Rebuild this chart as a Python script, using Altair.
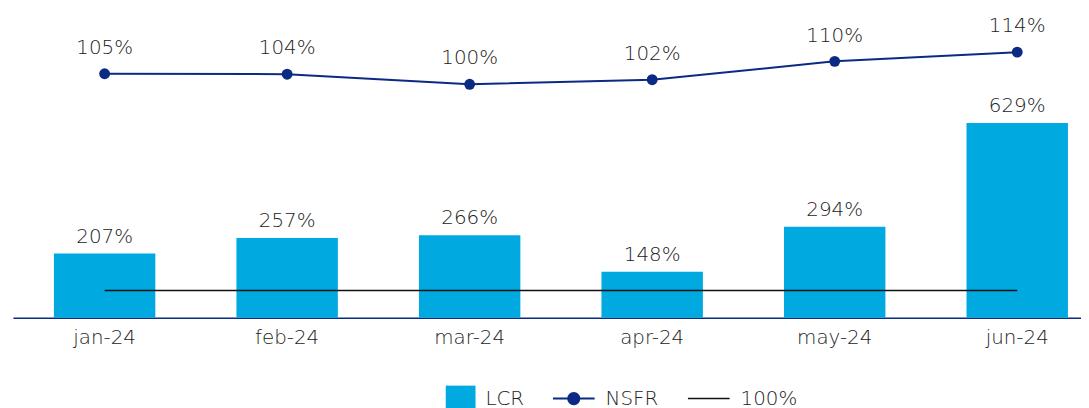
import altair as alt
import pandas as pd

months = ["jan-24", "feb-24", "mar-24", "apr-24", "may-24", "jun-24"]
lcr = [207, 257, 266, 148, 294, 629]
nsfr = [104.6, 104.4, 100, 102, 110, 114]
threshold = [100, 100, 100, 100, 100, 100]

FONT = "DejaVu Sans"
FW = 200
TXT = "#222222"
BLUE = "#00A9DF"
NAVY = "#0B2A84"

df = pd.DataFrame({
    "month": months,
    "lcr": lcr,
    "nsfr": nsfr,
    "thr": threshold,
    "s_lcr": ["LCR"] * 6,
    "s_nsfr": ["NSFR"] * 6,
    "s_thr": ["100%"] * 6,
})

x_scale = alt.Scale(paddingInner=0.4444, paddingOuter=0.148, align=0.758)
x = alt.X("month:N", sort=months, scale=x_scale,
          axis=alt.Axis(title=None, labelAngle=0, ticks=False, labelFontSize=20,
                        labelFont=FONT, labelFontWeight=FW, labelColor=TXT,
                        labelPadding=26, labelBaseline="alphabetic",
                        domainColor=NAVY, domainWidth=1.5, grid=False))

base = alt.Chart(df)

y_lcr = alt.Y("lcr:Q", scale=alt.Scale(domain=[0, 925], nice=False), axis=None)
bars = base.mark_bar().encode(
    x=x, y=y_lcr,
    color=alt.Color("s_lcr:N", scale=alt.Scale(domain=["LCR"], range=[BLUE]),
                    legend=alt.Legend(title=None, orient="none", legendX=435, legendY=354,
                                      symbolType="M-1,-0.87H1V0.87H-1Z", symbolSize=900,
                                      labelOffset=9, labelFontSize=20, labelFont=FONT,
                                      labelFontWeight=FW, labelColor=TXT)),
)
bar_text = base.mark_text(dy=-11, baseline="alphabetic", fontSize=20, font=FONT,
                          fontWeight=FW, color=TXT).encode(
    x=x, y=y_lcr, text="lab:N"
).transform_calculate(lab="format(datum.lcr, '.0f') + '%'")
layer_lcr = alt.layer(bars, bar_text)

y_nsfr = alt.Y("nsfr:Q", scale=alt.Scale(domain=[-1.8, 123.1], nice=False, zero=False), axis=None)
nsfr_color = alt.Color("s_nsfr:N", scale=alt.Scale(domain=["NSFR"], range=[NAVY]),
                       legend=alt.Legend(title=None, orient="none", legendX=543, legendY=348,
                                         symbolType="M-1,0H1M0.27,0A0.27,0.27 0 1 1 -0.27,0A0.27,0.27 0 1 1 0.27,0Z",
                                         symbolSize=1764, symbolStrokeWidth=2,
                                         symbolFillColor=NAVY, symbolStrokeColor=NAVY,
                                         labelOffset=10, labelFontSize=20, labelFont=FONT,
                                         labelFontWeight=FW, labelColor=TXT))
nsfr_line = base.mark_line(strokeWidth=2).encode(x=x, y=y_nsfr, color=nsfr_color)
nsfr_pts = base.mark_point(filled=True, size=120, opacity=1).encode(x=x, y=y_nsfr, color=nsfr_color)
nsfr_text = base.mark_text(dy=-20, baseline="alphabetic", fontSize=20, font=FONT,
                           fontWeight=FW, color=TXT).encode(
    x=x, y=y_nsfr, text="lab:N"
).transform_calculate(lab="format(datum.nsfr, '.0f') + '%'")
layer_nsfr = alt.layer(nsfr_line, nsfr_pts, nsfr_text)

y_thr = alt.Y("thr:Q", scale=alt.Scale(domain=[0, 1049], nice=False), axis=None)
thr_line = base.mark_line(strokeWidth=1.5).encode(
    x=x, y=y_thr,
    color=alt.Color("s_thr:N", scale=alt.Scale(domain=["100%"], range=["#111111"]),
                    legend=alt.Legend(title=None, orient="none", legendX=679, legendY=348,
                                      symbolType="stroke", symbolSize=1764, symbolStrokeWidth=1.5,
                                      labelOffset=10, labelFontSize=20, labelFont=FONT,
                                      labelFontWeight=FW, labelColor=TXT)),
)

chart = alt.layer(layer_lcr, layer_nsfr, thr_line).resolve_scale(
    y="independent", color="independent"
).properties(
    width=1076, height=288.5, autosize="none",
    padding={"left": 5, "top": 22, "right": 0, "bottom": 90},
).configure_view(stroke=None)

chart.save("out.html", embed_options={"renderer": "svg", "actions": False})
